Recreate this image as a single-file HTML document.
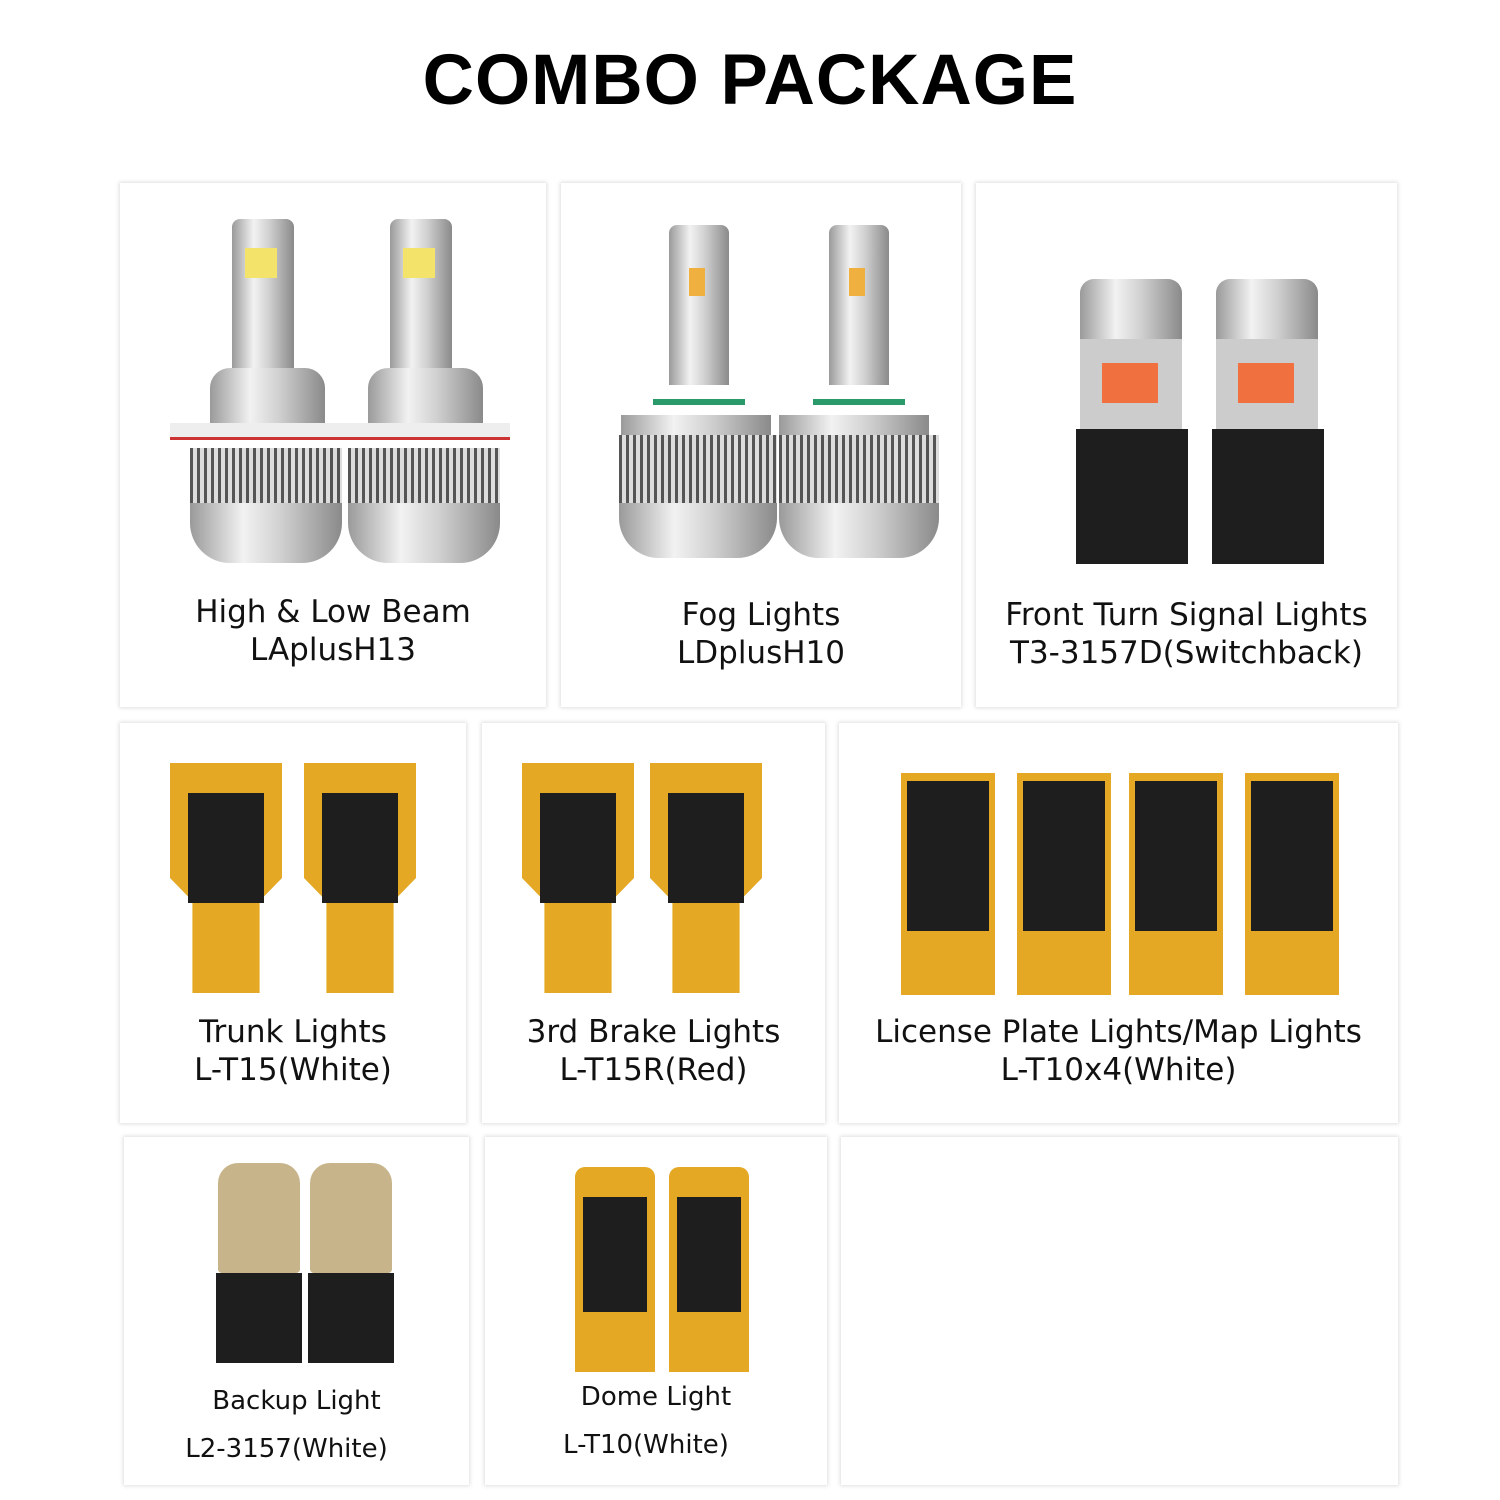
<!DOCTYPE html>
<html><head><meta charset="utf-8"><style>
body{margin:0;width:1500px;height:1500px;background:#fff;position:relative;overflow:hidden;font-family:"Liberation Sans","DejaVu Sans",sans-serif}
.t{position:absolute;left:0;width:1500px;top:40px;text-align:center;font-weight:bold;font-size:71px;letter-spacing:1px;color:#000}
.c{position:absolute;background:#fff;box-shadow:0 0 4px 1px rgba(0,0,0,.13)}
.l{position:absolute;left:0;right:0;text-align:center;color:#111;font-family:"DejaVu Sans",sans-serif}
.a{position:absolute}
.sil{background:linear-gradient(90deg,#9a9a9a,#f2f2f2 35%,#d0d0d0 60%,#8a8a8a)}
.fin{background:repeating-linear-gradient(90deg,#555 0 3px,#ddd 3px 7px)}
.gold{background:#e4a824}
.blk{background:#1e1e1e}
</style></head><body>
<div class="t">COMBO PACKAGE</div>

<!-- row1 -->
<div class="c" style="left:120px;top:183px;width:426px;height:524px">
 <div class="a sil" style="left:112px;top:36px;width:62px;height:150px;border-radius:8px 8px 0 0"></div>
 <div class="a" style="left:125px;top:65px;width:32px;height:30px;background:#f3e36a"></div>
 <div class="a sil" style="left:270px;top:36px;width:62px;height:150px;border-radius:8px 8px 0 0"></div>
 <div class="a" style="left:283px;top:65px;width:32px;height:30px;background:#f3e36a"></div>
 <div class="a sil" style="left:90px;top:185px;width:115px;height:60px;border-radius:20px 20px 0 0"></div>
 <div class="a sil" style="left:248px;top:185px;width:115px;height:60px;border-radius:20px 20px 0 0"></div>
 <div class="a" style="left:50px;top:240px;width:340px;height:14px;background:#eee;border-bottom:3px solid #c33"></div>
 <div class="a fin" style="left:70px;top:265px;width:152px;height:55px"></div>
 <div class="a fin" style="left:228px;top:265px;width:152px;height:55px"></div>
 <div class="a sil" style="left:70px;top:320px;width:152px;height:60px;border-radius:0 0 40px 40px"></div>
 <div class="a sil" style="left:228px;top:320px;width:152px;height:60px;border-radius:0 0 40px 40px"></div>
 <div class="l" style="top:410px;font-size:31px;line-height:38px">High &amp; Low Beam<br>LAplusH13</div>
</div>
<div class="c" style="left:561px;top:183px;width:400px;height:524px">
 <div class="a sil" style="left:108px;top:42px;width:60px;height:160px;border-radius:8px 8px 0 0"></div>
 <div class="a" style="left:128px;top:85px;width:16px;height:28px;background:#f0b040"></div>
 <div class="a sil" style="left:268px;top:42px;width:60px;height:160px;border-radius:8px 8px 0 0"></div>
 <div class="a" style="left:288px;top:85px;width:16px;height:28px;background:#f0b040"></div>
 <div class="a" style="left:92px;top:216px;width:92px;height:6px;background:#2a9a6a"></div>
 <div class="a" style="left:252px;top:216px;width:92px;height:6px;background:#2a9a6a"></div>
 <div class="a sil" style="left:60px;top:232px;width:150px;height:20px"></div>
 <div class="a sil" style="left:218px;top:232px;width:150px;height:20px"></div>
 <div class="a fin" style="left:58px;top:252px;width:158px;height:70px"></div>
 <div class="a fin" style="left:218px;top:252px;width:160px;height:70px"></div>
 <div class="a sil" style="left:58px;top:320px;width:158px;height:55px;border-radius:0 0 40px 40px"></div>
 <div class="a sil" style="left:218px;top:320px;width:160px;height:55px;border-radius:0 0 40px 40px"></div>
 <div class="l" style="top:413px;font-size:31px;line-height:38px">Fog Lights<br>LDplusH10</div>
</div>
<div class="c" style="left:976px;top:183px;width:421px;height:524px">
 <div class="a sil" style="left:104px;top:96px;width:102px;height:60px;border-radius:14px 14px 0 0"></div>
 <div class="a sil" style="left:240px;top:96px;width:102px;height:60px;border-radius:14px 14px 0 0"></div>
 <div class="a" style="left:104px;top:156px;width:102px;height:90px;background:#ccc"></div>
 <div class="a" style="left:240px;top:156px;width:102px;height:90px;background:#ccc"></div>
 <div class="a" style="left:126px;top:180px;width:56px;height:40px;background:#f07040"></div>
 <div class="a" style="left:262px;top:180px;width:56px;height:40px;background:#f07040"></div>
 <div class="a blk" style="left:100px;top:246px;width:112px;height:135px"></div>
 <div class="a blk" style="left:236px;top:246px;width:112px;height:135px"></div>
 <div class="l" style="top:413px;font-size:31px;line-height:38px">Front Turn Signal Lights<br>T3-3157D(Switchback)</div>
</div>

<!-- row2 -->
<div class="c" style="left:120px;top:723px;width:346px;height:400px">
 <div class="a gold" style="left:50px;top:40px;width:112px;height:230px;clip-path:polygon(0 0,100% 0,100% 50%,80% 60%,80% 100%,20% 100%,20% 60%,0 50%)"></div>
 <div class="a blk" style="left:68px;top:70px;width:76px;height:110px"></div>
 <div class="a gold" style="left:184px;top:40px;width:112px;height:230px;clip-path:polygon(0 0,100% 0,100% 50%,80% 60%,80% 100%,20% 100%,20% 60%,0 50%)"></div>
 <div class="a blk" style="left:202px;top:70px;width:76px;height:110px"></div>
 <div class="l" style="top:290px;font-size:31px;line-height:38px">Trunk Lights<br>L-T15(White)</div>
</div>
<div class="c" style="left:482px;top:723px;width:343px;height:400px">
 <div class="a gold" style="left:40px;top:40px;width:112px;height:230px;clip-path:polygon(0 0,100% 0,100% 50%,80% 60%,80% 100%,20% 100%,20% 60%,0 50%)"></div>
 <div class="a blk" style="left:58px;top:70px;width:76px;height:110px"></div>
 <div class="a gold" style="left:168px;top:40px;width:112px;height:230px;clip-path:polygon(0 0,100% 0,100% 50%,80% 60%,80% 100%,20% 100%,20% 60%,0 50%)"></div>
 <div class="a blk" style="left:186px;top:70px;width:76px;height:110px"></div>
 <div class="l" style="top:290px;font-size:31px;line-height:38px">3rd Brake Lights<br>L-T15R(Red)</div>
</div>
<div class="c" style="left:839px;top:723px;width:559px;height:400px">
 <div class="a gold" style="left:62px;top:50px;width:94px;height:222px"></div><div class="a blk" style="left:68px;top:58px;width:82px;height:150px"></div>
 <div class="a gold" style="left:178px;top:50px;width:94px;height:222px"></div><div class="a blk" style="left:184px;top:58px;width:82px;height:150px"></div>
 <div class="a gold" style="left:290px;top:50px;width:94px;height:222px"></div><div class="a blk" style="left:296px;top:58px;width:82px;height:150px"></div>
 <div class="a gold" style="left:406px;top:50px;width:94px;height:222px"></div><div class="a blk" style="left:412px;top:58px;width:82px;height:150px"></div>
 <div class="l" style="top:290px;font-size:31px;line-height:38px">License Plate Lights/Map Lights<br>L-T10x4(White)</div>
</div>

<!-- row3 -->
<div class="c" style="left:124px;top:1137px;width:345px;height:348px">
 <div class="a" style="left:94px;top:26px;width:82px;height:110px;background:#c8b48a;border-radius:20px 20px 4px 4px"></div>
 <div class="a" style="left:186px;top:26px;width:82px;height:110px;background:#c8b48a;border-radius:20px 20px 4px 4px"></div>
 <div class="a blk" style="left:92px;top:136px;width:86px;height:90px"></div>
 <div class="a blk" style="left:184px;top:136px;width:86px;height:90px"></div>
 <div class="l" style="top:240px;font-size:26px;line-height:48px">Backup Light<br><span style="margin-left:-20px">L2-3157(White)</span></div>
</div>
<div class="c" style="left:485px;top:1137px;width:342px;height:348px">
 <div class="a gold" style="left:90px;top:30px;width:80px;height:205px;border-radius:10px 10px 0 0"></div><div class="a blk" style="left:98px;top:60px;width:64px;height:115px"></div>
 <div class="a gold" style="left:184px;top:30px;width:80px;height:205px;border-radius:10px 10px 0 0"></div><div class="a blk" style="left:192px;top:60px;width:64px;height:115px"></div>
 <div class="l" style="top:236px;font-size:26px;line-height:48px">Dome Light<br><span style="margin-left:-20px">L-T10(White)</span></div>
</div>
<div class="c" style="left:841px;top:1137px;width:557px;height:348px"></div>
</body></html>
